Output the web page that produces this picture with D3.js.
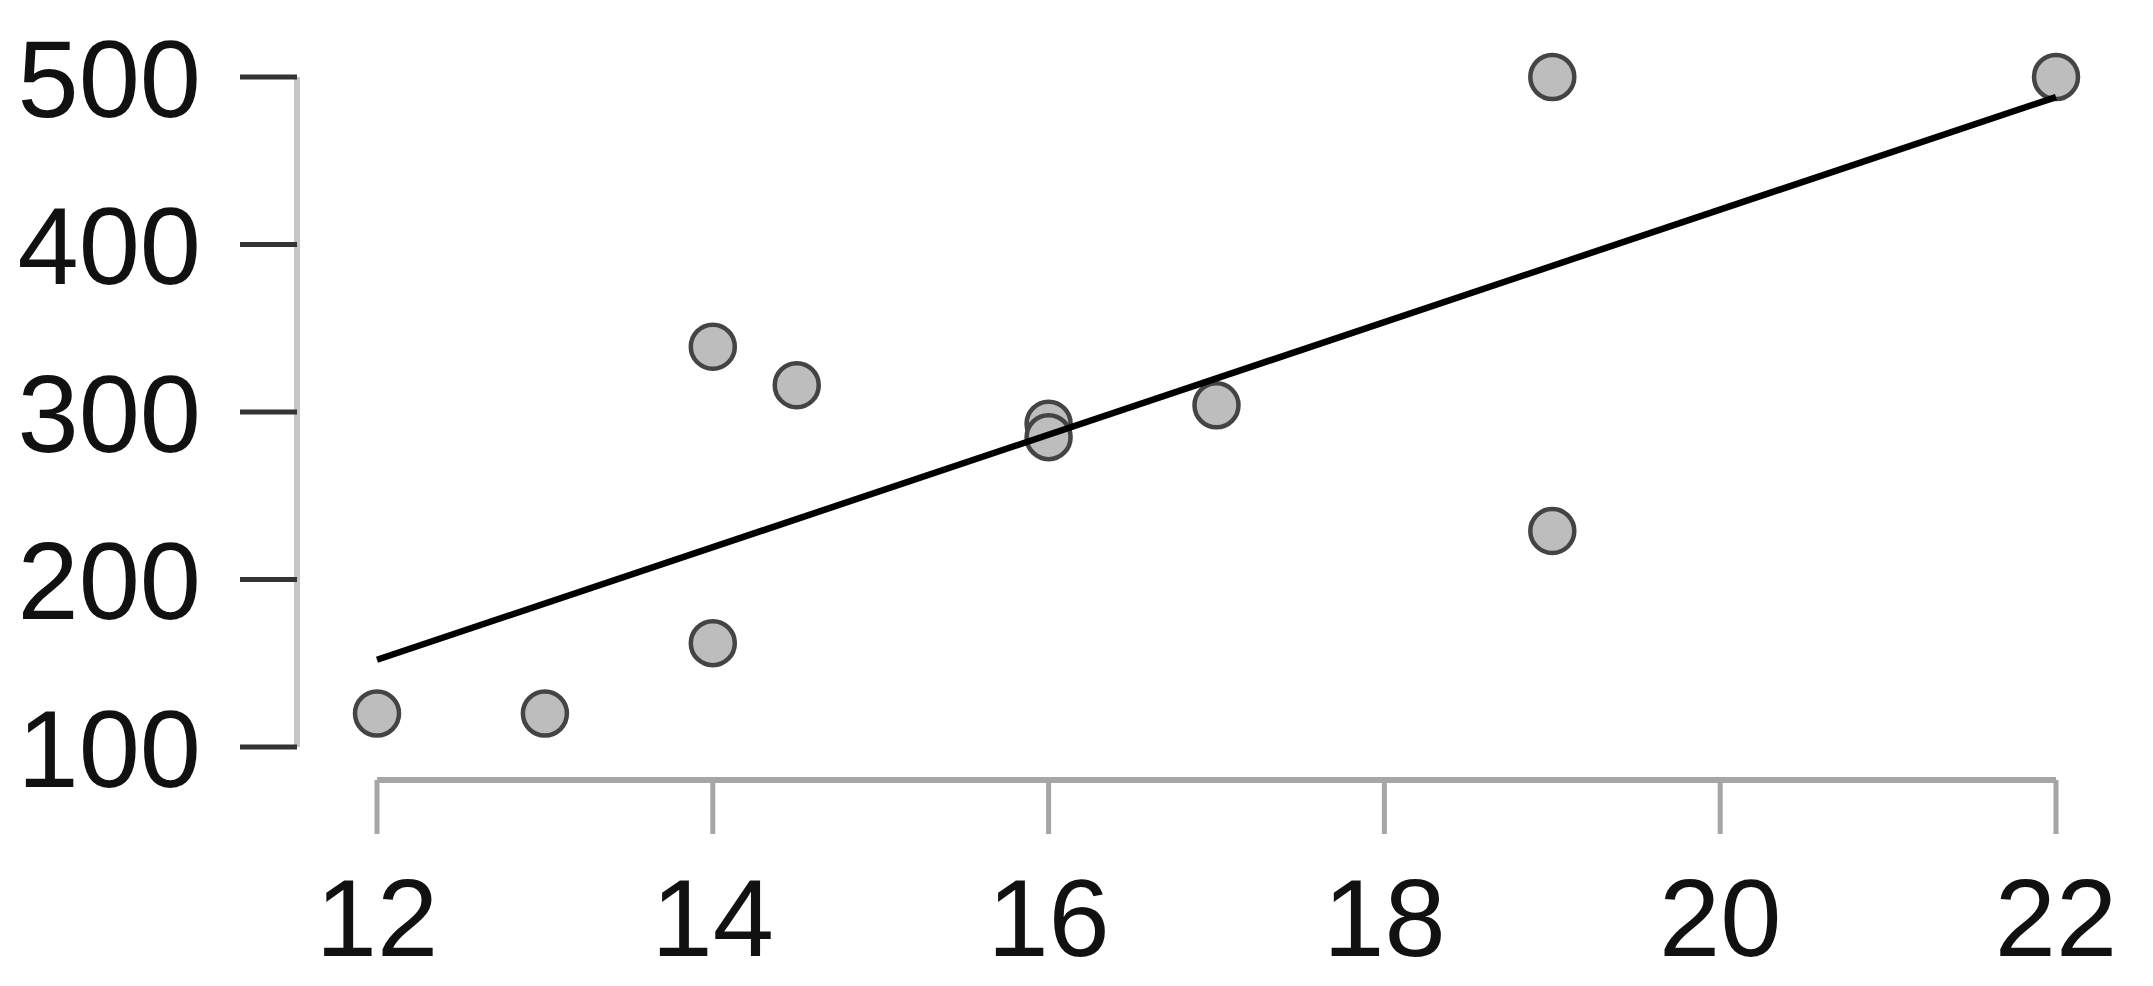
<!DOCTYPE html>
<html>
<head>
<meta charset="utf-8">
<script src="https://cdn.jsdelivr.net/npm/d3@7"></script>
<style>
  html, body { margin: 0; padding: 0; background: #fff; }
  svg { display: block; }
  text { font-family: "Liberation Sans", Arial, Helvetica, sans-serif; }
</style>
</head>
<body>
<svg id="chart" width="2153" height="986"></svg>
<script>
// Data
const xValues = [12, 13, 14, 14, 14.5, 16, 16, 17, 19, 19, 22];
const yValues = [120, 120, 339, 162, 316, 293, 285, 304, 229, 500, 500];
const xTicks = [12, 14, 16, 18, 20, 22];
const yTicks = [100, 200, 300, 400, 500];

const W = 2153, H = 986;
const svg = d3.select("#chart");

const x = d3.scaleLinear().domain([12, 22]).range([377, 2056]);
const y = d3.scaleLinear().domain([100, 500]).range([747, 77]);

// Y axis
const yAxisG = svg.append("g").attr("transform", "translate(297,0)");
yAxisG.append("line")
  .attr("x1", 0).attr("x2", 0)
  .attr("y1", y(100)).attr("y2", y(500))
  .attr("stroke", "#c6c6c6").attr("stroke-width", 6);
yAxisG.selectAll("line.tick").data(yTicks).join("line")
  .attr("class", "tick")
  .attr("x1", -57).attr("x2", 0)
  .attr("y1", d => y(d)).attr("y2", d => y(d))
  .attr("stroke", "#333").attr("stroke-width", 5);
svg.selectAll("text.ylab").data(yTicks).join("text")
  .attr("class", "ylab")
  .attr("x", 201).attr("y", d => y(d))
  .attr("dy", "0.36em")
  .attr("text-anchor", "end")
  .attr("font-size", 110)
  .attr("fill", "#111")
  .text(d => d);

// X axis
const xAxisY = 780;
svg.append("line")
  .attr("x1", x(12)).attr("x2", x(22))
  .attr("y1", xAxisY).attr("y2", xAxisY)
  .attr("stroke", "#a6a6a6").attr("stroke-width", 6);
svg.selectAll("line.xtick").data(xTicks).join("line")
  .attr("class", "xtick")
  .attr("x1", d => x(d)).attr("x2", d => x(d))
  .attr("y1", xAxisY).attr("y2", 834)
  .attr("stroke", "#a6a6a6").attr("stroke-width", 5);
svg.selectAll("text.xlab").data(xTicks).join("text")
  .attr("class", "xlab")
  .attr("x", d => x(d)).attr("y", 956)
  .attr("text-anchor", "middle")
  .attr("font-size", 110)
  .attr("fill", "#111")
  .text(d => d);

// Least-squares regression line over the points
const pts = xValues.map((v, i) => ({ x: v, y: yValues[i] }));
const mx = d3.mean(xValues), my = d3.mean(yValues);
const sxy = d3.sum(pts, p => (p.x - mx) * (p.y - my));
const sxx = d3.sum(pts, p => (p.x - mx) ** 2);
const slope = sxy / sxx, intercept = my - slope * mx;
const ext = d3.extent(xValues);
const lineData = ext.map(v => ({ x: v, y: intercept + slope * v }));

// Points
svg.selectAll("circle.pt").data(pts).join("circle")
  .attr("class", "pt")
  .attr("cx", d => x(d.x)).attr("cy", d => y(d.y))
  .attr("r", 22)
  .attr("fill", "#bdbdbd")
  .attr("stroke", "#444").attr("stroke-width", 4.5);

svg.append("path")
  .datum(lineData)
  .attr("d", d3.line().x(d => x(d.x)).y(d => y(d.y)))
  .attr("fill", "none")
  .attr("stroke", "#000").attr("stroke-width", 6.5);
</script>
</body>
</html>
